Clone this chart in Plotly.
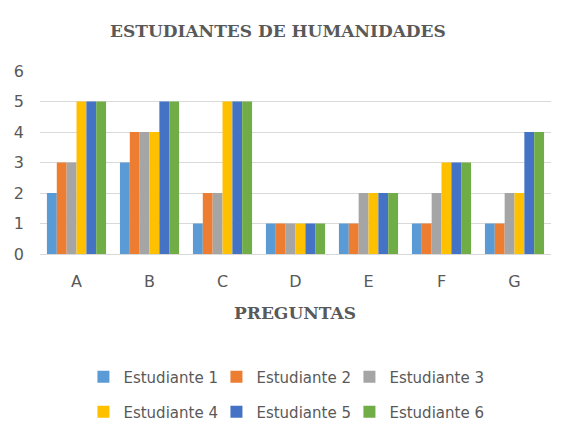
import plotly.graph_objects as go

categories = ["A", "B", "C", "D", "E", "F", "G"]
series_names = ["Estudiante 1", "Estudiante 2", "Estudiante 3",
                "Estudiante 4", "Estudiante 5", "Estudiante 6"]
est1 = [2, 3, 1, 1, 1, 1, 1]
est2 = [3, 4, 2, 1, 1, 1, 1]
est3 = [3, 4, 2, 1, 2, 2, 2]
est4 = [5, 4, 5, 1, 2, 3, 2]
est5 = [5, 5, 5, 1, 2, 3, 4]
est6 = [5, 5, 5, 1, 2, 3, 4]
series_values = [est1, est2, est3, est4, est5, est6]
colors = ["#5B9BD5", "#ED7D31", "#A5A5A5", "#FFC000", "#4472C4", "#70AD47"]
y_ticks = [0, 1, 2, 3, 4, 5, 6]

fig = go.Figure()
for i, (name, vals) in enumerate(zip(series_names, series_values)):
    fig.add_trace(go.Bar(
        x=categories, y=vals, name=name,
        marker=dict(color=colors[i], line=dict(width=0)),
        legend="legend" if i < 3 else "legend2",
        legendwidth=110 if i in (2, 5) else 88,
    ))

text_col = "#595959"
PH = 183  # plot height in px
legend_common = dict(
    orientation="h", xanchor="left", yanchor="middle",
    font=dict(family="DejaVu Sans", size=15, color=text_col),
    bgcolor="rgba(0,0,0,0)", itemclick=False,
)
fig.update_layout(
    width=558, height=436,
    margin=dict(l=32, r=15, t=63, b=190),
    paper_bgcolor="white", plot_bgcolor="white",
    barmode="group", bargap=0.19, bargroupgap=0,
    font=dict(family="DejaVu Sans", color=text_col, size=15),
    legend=dict(x=0.085, y=(254 - 377) / PH, **legend_common),
    legend2=dict(x=0.085, y=(254 - 412) / PH, **legend_common),
    xaxis=dict(
        showgrid=False, showline=True, linecolor="#D9D9D9", linewidth=1,
        ticks="", tickfont=dict(family="DejaVu Sans", size=16, color=text_col),
        ticklabelstandoff=13, automargin=False,
    ),
    yaxis=dict(
        range=[0, 6], tickvals=y_ticks, showgrid=True, gridcolor="#D9D9D9",
        gridwidth=1, zeroline=False, showline=False,
        tickfont=dict(family="DejaVu Sans", size=16, color=text_col),
        ticklabelstandoff=15, automargin=False,
    ),
    annotations=[
        dict(text="<b>ESTUDIANTES DE HUMANIDADES</b>", xref="paper", yref="paper",
             x=(278 - 40) / 511, y=(254 - 31) / PH, xanchor="center", yanchor="middle",
             showarrow=False,
             font=dict(family="DejaVu Serif", size=17, color=text_col)),
        dict(text="<b>PREGUNTAS</b>", xref="paper", yref="paper",
             x=(295 - 40) / 511, y=(254 - 313) / PH, xanchor="center", yanchor="middle",
             showarrow=False,
             font=dict(family="DejaVu Serif", size=17, color=text_col)),
    ],
)

fig.write_html("out.html")
